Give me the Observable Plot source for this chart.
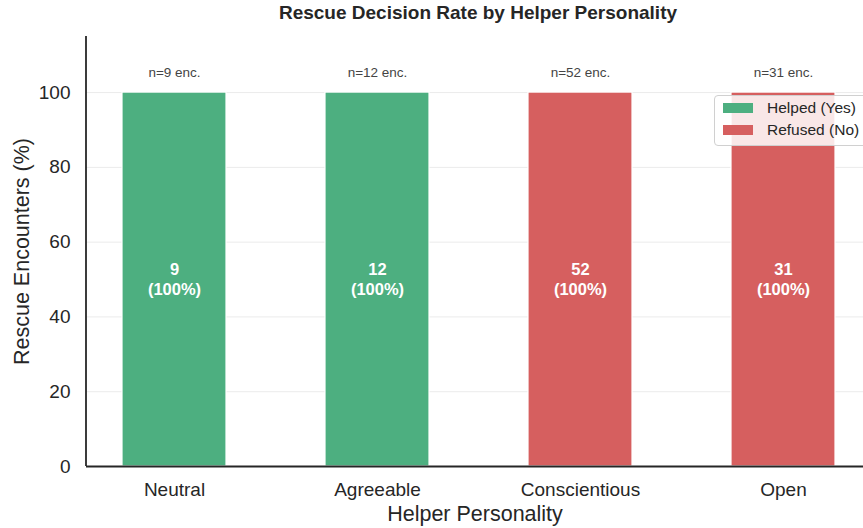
<!DOCTYPE html>
<html>
<head>
<meta charset="utf-8">
<script src="https://cdn.jsdelivr.net/npm/d3@7"></script>
<script src="https://cdn.jsdelivr.net/npm/@observablehq/plot@0.6"></script>
<style>
  html, body { margin: 0; padding: 0; background: #fff; overflow: hidden; }
  #wrap { position: relative; width: 863px; height: 528px; font-family: "Liberation Sans", Arial, sans-serif; }
  #title { position: absolute; left: 86px; width: 784px; top: 2px; text-align: center; font-weight: bold; font-size: 19px; color: #262626; }
  #legend { position: absolute; left: 714px; top: 95px; width: 160px; height: 49px; background: rgba(255,255,255,0.85); border: 1px solid #d0d0d0; border-radius: 4px; font-size: 15.5px; color: #262626; }
  .item { position: absolute; left: 8px; display: flex; align-items: center; }
  .sw { width: 30px; height: 10px; margin-right: 14px; }
</style>
</head>
<body>
<div id="wrap">
  <div id="chart"></div>
  <div id="title">Rescue Decision Rate by Helper Personality</div>
  <div id="legend">
    <div class="item" style="top:3px"><div class="sw" style="background:#4daf80"></div>Helped (Yes)</div>
    <div class="item" style="top:25px"><div class="sw" style="background:#d65f5f"></div>Refused (No)</div>
  </div>
</div>
<script>
const categories = ["Neutral", "Agreeable", "Conscientious", "Open"];
const helpedCounts = [9, 12, 0, 0];
const refusedCounts = [0, 0, 52, 31];
const yTicks = [0, 20, 40, 60, 80, 100];
const decisions = ["Helped (Yes)", "Refused (No)"];
const colors = ["#4daf80", "#d65f5f"];

const rows = [];
categories.forEach((c, i) => {
  const total = helpedCounts[i] + refusedCounts[i];
  [helpedCounts[i], refusedCounts[i]].forEach((n, j) => {
    rows.push({cat: c, decision: decisions[j], n, pct: total ? n / total * 100 : 0, total});
  });
});
const totals = categories.map((c, i) => ({cat: c, total: helpedCounts[i] + refusedCounts[i]}));

const leftSpine = (index, scales, values, dims) => {
  const ns = "http://www.w3.org/2000/svg";
  const l = document.createElementNS(ns, "line");
  l.setAttribute("x1", dims.marginLeft); l.setAttribute("x2", dims.marginLeft);
  l.setAttribute("y1", scales.y(115)); l.setAttribute("y2", scales.y(0));
  l.setAttribute("stroke", "#262626"); l.setAttribute("stroke-width", 1.8);
  return l;
};

const chart = Plot.plot({
  width: 863,
  height: 528,
  marginTop: 36,
  marginBottom: 62,
  marginLeft: 86,
  marginRight: 0,
  style: {fontFamily: "Liberation Sans, Arial, sans-serif", background: "transparent", overflow: "visible"},
  x: {domain: categories, range: [86, 870], paddingInner: 0.488, paddingOuter: 0.175, label: null},
  y: {domain: [0, 115], range: [466, 36], label: null},
  color: {domain: decisions, range: colors},
  marks: [
    Plot.ruleY(yTicks.filter(t => t > 0), {stroke: "#ebebeb", strokeWidth: 1}),
    Plot.barY(rows, Plot.stackY({x: "cat", y: "pct", fill: "decision", order: decisions, stroke: "white", strokeWidth: 1.2})),
    Plot.text(rows, Plot.stackY({x: "cat", y: "pct", z: "decision", order: decisions, filter: d => d.n > 0, text: d => `${d.n}\n(${Math.round(d.pct)}%)`, fill: "white", fontWeight: "bold", fontSize: 16.5, lineHeight: 1.2, dy: -1})),
    Plot.text(totals, {x: "cat", y: 100, dy: -20, text: d => `n=${d.total} enc.`, fill: "#444", fontSize: 13.5}),
    Plot.axisY({ticks: yTicks, tickSize: 0, tickPadding: 16, fontSize: 19, color: "#262626", label: null}),
    Plot.axisX({tickSize: 0, tickPadding: 16, fontSize: 19, color: "#262626", label: null}),
    Plot.text(["Rescue Encounters (%)"], {frameAnchor: "left", textAnchor: "middle", dx: -64, rotate: -90, fontSize: 21.5, fill: "#262626"}),
    Plot.text(["Helper Personality"], {frameAnchor: "bottom", dy: 54, fontSize: 21.5, fill: "#262626"}),
    leftSpine,
    Plot.ruleY([0], {stroke: "#262626", strokeWidth: 1.8})
  ]
});
document.getElementById("chart").appendChild(chart);
</script>
</body>
</html>
